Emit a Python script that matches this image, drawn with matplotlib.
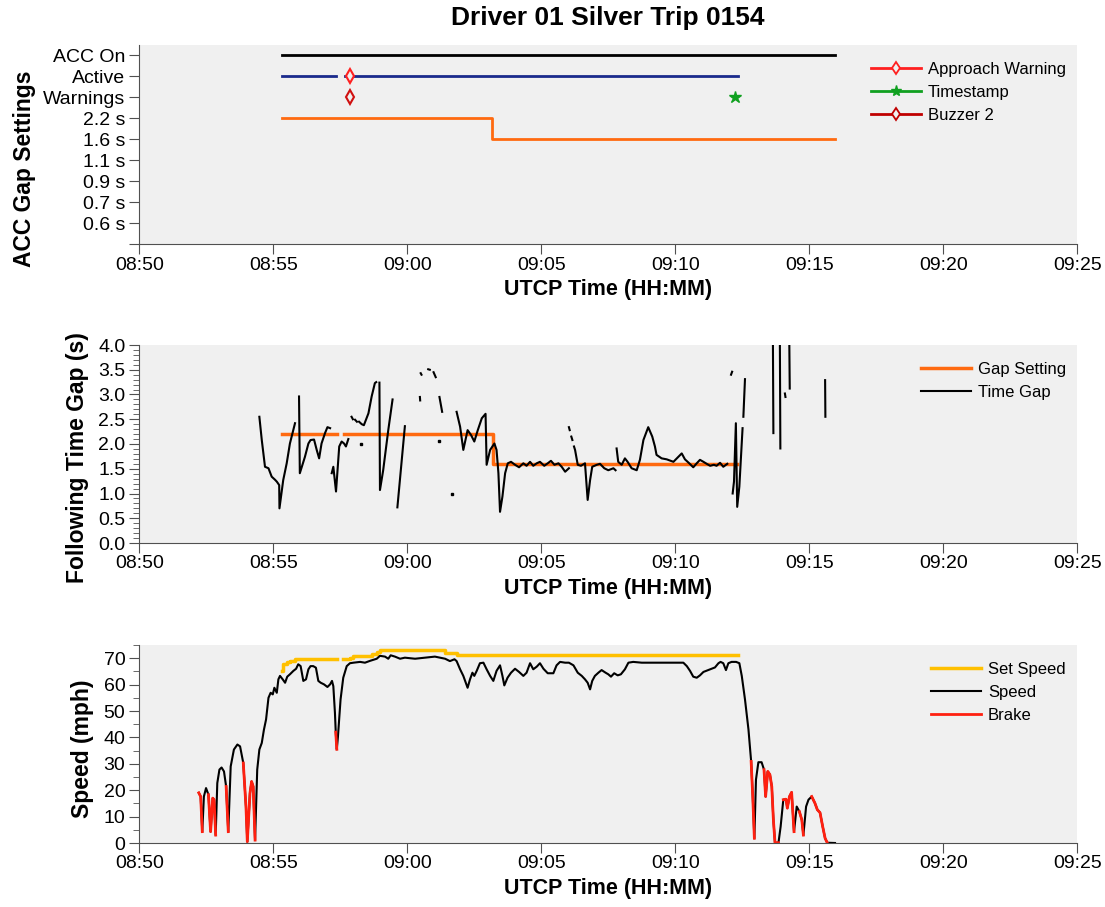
import numpy as np
import matplotlib
matplotlib.use('Agg')
from matplotlib import pyplot as plt
from matplotlib.ticker import MultipleLocator

plt.rcParams['font.family'] = ['Liberation Sans', 'DejaVu Sans']

nan = np.nan
BG = '#f0f0f0'

# all times are minutes after 08:50
xtick_labels = ['08:50', '08:55', '09:00', '09:05', '09:10', '09:15', '09:20', '09:25']

# ---- top panel: ACC gap settings
gap_levels = ['', '0.6 s', '0.7 s', '0.9 s', '1.1 s', '1.6 s', '2.2 s', 'Warnings', 'Active', 'ACC On']
acc_on_t = [5.34, 25.97]
active_t = [5.34, 7.35, nan, 7.67, 22.35]
gap_top_t = [5.34, 13.17, 25.97]
gap_top_s = ['2.2 s', '1.6 s', '1.6 s']
approach_t = [7.87]
buzzer_t = [7.87]
stamp_t = [22.24]

# ---- middle panel: following time gap
gap_set_t = [5.31, 7.36, nan, 7.64, 13.2, 22.3]
gap_set_v = [2.2, 2.2, nan, 2.2, 1.6, 1.6]

tgap_t = [4.48, 4.57, 4.69, 4.82, 4.94, 5.06, 5.13, 5.22, 5.23, 5.37, 5.50, 5.62, 5.81, nan,
          5.96, 5.99, 6.18, 6.31, 6.39, 6.52, 6.62, 6.71, 6.80, 6.93, 7.02, 7.12, nan,
          7.18, 7.24, 7.34, 7.39, 7.46, 7.55, 7.64, 7.71, 7.80, nan,
          7.92, 7.97, nan, 8.05, 8.12, nan, 8.20, 8.30, 8.38, 8.55, 8.67, 8.79, 8.84, nan,
          8.96, 8.98, 9.10, 9.29, 9.45, nan, 9.63, 9.91, nan,
          10.50, 10.53, nan, 10.47, 10.48, nan, 10.78, 10.84, nan, 10.98, 11.06, nan, 11.20, 11.30, nan,
          11.84, 11.97, 12.09, 12.25, 12.38, 12.50, 12.63, 12.78, 12.92, 12.96, 13.09, 13.25, 13.33,
          13.40, 13.46, 13.55, 13.65, 13.75, 13.87, 14.02, 14.17, 14.33, 14.45, 14.58, 14.70, 14.83,
          14.95, 15.11, 15.24, 15.36, 15.49, 15.64, 15.76, 15.89, 16.03, nan,
          16.03, 16.06, nan, 16.12, 16.16, nan,
          16.22, 16.26, 16.36, 16.48, 16.63, 16.73, 16.82, 16.90, 17.07, 17.19, 17.35, 17.50, 17.69,
          17.77, nan,
          17.81, 17.87, 18.00, 18.12, 18.22, 18.37, 18.56, 18.68, 18.81, 18.99, 19.14, 19.24, 19.30,
          19.49, 19.68, 19.93, 20.11, 20.24, 20.36, 20.52, 20.67, 20.80, 20.92, 21.05, 21.17, 21.30,
          21.44, 21.54, 21.67, 21.79, 21.94, nan,
          22.08, 22.12, nan,
          22.14, 22.19, 22.26, 22.31, 22.39, 22.51, nan, 22.54, 22.60, nan,
          23.64, 23.66, nan, 23.90, 23.92, nan, 24.09, 24.11, nan, 24.25, 24.27, nan, 25.59, 25.60]
tgap_v = [2.55, 2.08, 1.54, 1.51, 1.34, 1.28, 1.24, 1.17, 0.70, 1.27, 1.61, 2.01, 2.42, nan,
          2.96, 1.41, 1.74, 2.01, 2.08, 2.09, 1.88, 1.71, 2.01, 2.22, 2.34, 2.32, nan,
          1.41, 1.54, 1.04, 1.41, 1.95, 2.05, 2.01, 1.95, 2.10, nan,
          2.55, 2.50, nan, 2.49, 2.45, nan, 2.45, 2.40, 2.38, 2.62, 2.96, 3.23, 3.25, nan,
          3.24, 1.07, 1.47, 2.28, 2.90, nan, 0.72, 2.36, nan,
          3.43, 3.40, nan, 2.95, 2.88, nan, 3.51, 3.50, nan, 3.45, 3.35, nan, 2.95, 2.65, nan,
          2.65, 2.35, 1.88, 2.28, 2.18, 2.05, 2.28, 2.52, 2.61, 1.58, 1.88, 2.01, 1.88,
          1.41, 0.63, 0.94, 1.41, 1.61, 1.64, 1.58, 1.53, 1.61, 1.56, 1.64, 1.56, 1.61,
          1.64, 1.56, 1.61, 1.66, 1.58, 1.61, 1.54, 1.44, 1.51, nan,
          2.34, 2.28, nan, 2.15, 2.08, nan,
          1.95, 1.88, 1.58, 1.56, 1.61, 0.87, 1.27, 1.54, 1.58, 1.60, 1.51, 1.47, 1.51,
          1.47, nan,
          1.91, 1.64, 1.58, 1.71, 1.64, 1.51, 1.47, 1.68, 2.08, 2.34, 2.15, 1.95, 1.78,
          1.71, 1.69, 1.64, 1.74, 1.81, 1.69, 1.61, 1.53, 1.61, 1.68, 1.64, 1.60, 1.56,
          1.58, 1.56, 1.62, 1.54, 1.60, nan,
          3.40, 3.46, nan,
          1.00, 1.24, 2.42, 0.73, 1.14, 2.32, nan, 2.55, 3.31, nan,
          4.30, 2.22, nan, 4.30, 1.91, nan, 3.02, 2.95, nan, 4.30, 3.12, nan, 3.29, 2.55]
tgap_dot_t = [8.26, 11.19, 11.66]
tgap_dot_v = [2.00, 2.06, 0.99]

# ---- bottom panel: speed
set_t = [5.31, 5.35, 5.50, 5.62, 5.81, 5.99, 7.36, nan,
         7.61, 7.86, 7.99, 8.48, 8.67, 8.86, 8.98, 11.40, 11.87, 22.35]
set_v = [65.2, 67.7, 68.6, 69.0, 69.6, 69.8, 69.8, nan,
         69.8, 70.2, 70.9, 70.9, 71.5, 72.4, 73.0, 72.1, 71.1, 71.1]

speed_t = [2.22, 2.29, 2.35, 2.41, 2.49, 2.58, 2.66, 2.74, 2.79, 2.85, 2.91, 2.99, 3.07, 3.16,
           3.24, 3.32, 3.41, 3.53, 3.66, 3.76, 3.88, 3.98, 4.03, 4.13, 4.19, 4.25, 4.32, 4.40,
           4.48, 4.57, 4.65, 4.73, 4.82, 4.90, 4.98, 5.04, 5.13, 5.19, 5.25, 5.35, 5.44, 5.52,
           5.62, 5.75, 5.85, 5.93, 6.02, 6.12, 6.22, 6.31, 6.39, 6.49, 6.59, 6.68, 6.77, 6.89,
           7.02, 7.12, 7.19, 7.24, 7.30, 7.33, 7.37, 7.41, 7.51, 7.61, 7.74, 7.86, 7.99, 8.24,
           8.42, 8.61, 8.86, 8.98, 9.17, 9.29, 9.38, 9.54, 9.73, 9.91, 10.29, 10.66, 11.03, 11.22,
           11.41, 11.59, 11.76, 11.84, 11.97, 12.09, 12.25, 12.34, 12.43, 12.50, 12.59, 12.71,
           12.84, 12.96, 13.09, 13.21, 13.33, 13.46, 13.55, 13.62, 13.74, 13.87, 14.02, 14.17,
           14.33, 14.45, 14.58, 14.70, 14.83, 14.95, 15.08, 15.24, 15.45, 15.57, 15.70, 15.89,
           16.03, 16.20, 16.36, 16.51, 16.63, 16.73, 16.82, 16.90, 17.00, 17.13, 17.25, 17.40,
           17.50, 17.60, 17.72, 17.85, 17.97, 18.12, 18.25, 18.43, 18.75, 19.12, 19.49, 19.87,
           20.30, 20.43, 20.55, 20.67, 20.80, 20.92, 21.05, 21.23, 21.48, 21.61, 21.69, 21.79,
           21.89, 21.98, 22.10, 22.27, 22.39, 22.48, 22.60, 22.73, 22.83, 22.89, 22.95, 23.01,
           23.10, 23.22, 23.31, 23.37, 23.45, 23.53, 23.60, 23.66, 23.72, 23.85, 23.93, 24.03,
           24.13, 24.18, 24.26, 24.34, 24.43, 24.53, 24.63, 24.72, 24.78, 24.88, 24.97, 25.09,
           25.21, 25.30, 25.40, 25.50, 25.59, 25.67, 25.96]
speed_v = [19.0, 17.6, 4.3, 17.6, 20.8, 18.3, 4.3, 17.0, 16.4, 3.0, 22.7, 27.8, 28.6, 27.1,
           21.4, 4.3, 29.0, 35.4, 37.3, 36.6, 30.3, 13.8, 0.5, 18.9, 23.3, 21.4, 1.1, 27.8,
           35.4, 37.9, 42.9, 46.8, 55.0, 56.9, 56.3, 58.8, 56.9, 62.0, 63.3, 62.0, 60.7, 63.0,
           63.9, 65.2, 66.0, 67.7, 67.0, 61.4, 62.0, 65.8, 67.0, 67.0, 66.4, 61.4, 60.7, 60.1,
           59.1, 60.1, 61.4, 59.4, 49.3, 42.0, 35.5, 40.0, 54.4, 62.6, 67.0, 68.1, 68.3, 68.6,
           68.3, 69.0, 69.8, 70.9, 70.6, 69.8, 71.1, 70.6, 69.8, 70.2, 69.8, 70.2, 70.6, 70.2,
           69.8, 68.9, 69.6, 68.9, 65.8, 63.3, 58.8, 62.0, 64.5, 63.3, 65.2, 68.1,
           68.3, 65.8, 63.3, 61.4, 65.2, 67.3, 63.3, 59.7, 62.6, 64.5, 66.0, 64.8,
           63.3, 64.5, 68.1, 65.8, 66.8, 68.1, 66.0, 64.3, 64.3, 67.3, 68.6, 68.3,
           68.3, 67.3, 64.5, 63.3, 62.0, 60.7, 58.2, 61.4, 63.3, 64.5, 65.5, 64.5,
           63.9, 63.0, 64.3, 63.5, 63.9, 65.8, 68.3, 68.6, 68.3, 68.3, 68.3, 68.3,
           68.3, 67.0, 65.2, 63.0, 62.6, 63.5, 64.8, 65.5, 66.5, 68.1, 68.6, 68.1,
           65.5, 68.1, 68.6, 68.6, 68.1, 63.3, 54.4, 43.0, 30.9, 17.6, 1.8, 24.0,
           30.6, 30.6, 27.8, 17.6, 27.1, 25.9, 21.4, 8.8, 0.1, 0.1, 6.2, 16.4,
           16.6, 13.2, 17.6, 19.2, 4.3, 13.8, 11.9, 8.8, 3.0, 13.8, 16.4, 17.6,
           15.1, 12.6, 11.5, 6.2, 1.8, 0.1, 0.0]

# brake on (start, end) in minutes after 08:50
brake_on = [(2.22, 2.35), (2.58, 2.66), (2.74, 2.85), (3.24, 3.32), (3.88, 4.03), (4.13, 4.32),
            (7.33, 7.37), (22.83, 22.95), (23.31, 23.37), (23.45, 23.85), (24.03, 24.18),
            (24.26, 24.43), (24.63, 24.78), (25.09, 25.67)]


def style_axes(ax):
    ax.set_facecolor(BG)
    for s in ['top', 'right']:
        ax.spines[s].set_visible(False)
    for s in ['left', 'bottom']:
        ax.spines[s].set_color('#505050')
    ax.tick_params(which='both', direction='out', color='#505050', labelsize=14)
    ax.tick_params(which='major', length=7)
    ax.tick_params(which='minor', length=4)
    ax.tick_params(axis='x', pad=2)
    ax.tick_params(axis='y', pad=3)
    ax.set_xlim(0, 35)
    ax.set_xticks(range(0, 36, 5))
    ax.set_xticklabels(xtick_labels)
    ax.set_xlabel('UTCP Time (HH:MM)', fontsize=15.5, fontweight='bold', labelpad=4)


def add_legend(ax, *args):
    ax.legend(*args, loc='upper right', bbox_to_anchor=(1, 1 - 5 / 199), frameon=False,
              fontsize=12, handlelength=3, handletextpad=0.4, labelspacing=0.5,
              borderaxespad=0.3)


fig = plt.figure(figsize=(11.05, 9.07), dpi=100)
L, W = 139.3 / 1105, 938 / 1105
ax1 = fig.add_axes([L, 1 - 244 / 907, W, 199 / 907])
ax2 = fig.add_axes([L, 1 - 543 / 907, W, 198 / 907])
ax3 = fig.add_axes([L, 1 - 843 / 907, W, 198 / 907])

# top
style_axes(ax1)
ax1.plot(acc_on_t, [9, 9], color='black', lw=2)
ax1.plot(active_t, [8] * len(active_t), color='#1a2a8c', lw=2)
ax1.plot(gap_top_t, [gap_levels.index(g) for g in gap_top_s], color='#ff6a10', lw=2,
         drawstyle='steps-post')
ax1.plot(approach_t, [8], ls='none', marker='d', ms=7, mew=1.5, mec='#ff2020', mfc=BG)
ax1.plot(buzzer_t, [7], ls='none', marker='d', ms=7, mew=1.5, mec='#d01010', mfc=BG)
ax1.plot(stamp_t, [7], ls='none', marker='*', ms=9, color='#10a020')
h1, = ax1.plot([], [], color='#ff2020', lw=2, marker='d', ms=6, mew=1.3, mfc=BG)
h2, = ax1.plot([], [], color='#10a020', lw=2, marker='*', ms=8)
h3, = ax1.plot([], [], color='#c00000', lw=2, marker='d', ms=6, mew=1.3, mfc=BG)
add_legend(ax1, [h1, h2, h3], ['Approach Warning', 'Timestamp', 'Buzzer 2'])
ax1.set_ylim(0, 9.5)
ax1.set_yticks(range(10))
ax1.set_yticklabels(gap_levels)
ax1.set_ylabel('ACC Gap Settings', fontsize=16.5, fontweight='bold', va='center')
ax1.yaxis.set_label_coords(-0.122, 0.377)

# middle
style_axes(ax2)
ax2.plot(gap_set_t, gap_set_v, color='#ff6a10', lw=2.5, drawstyle='steps-post', label='Gap Setting')
ax2.plot(tgap_t, tgap_v, color='black', lw=1.5, label='Time Gap')
ax2.plot(tgap_dot_t, tgap_dot_v, ls='none', marker='s', ms=1.5, color='black')
ax2.set_ylim(0, 4)
ax2.yaxis.set_major_locator(MultipleLocator(0.5))
ax2.yaxis.set_minor_locator(MultipleLocator(0.1))
ax2.yaxis.set_major_formatter('{x:.1f}')
add_legend(ax2)
ax2.set_ylabel('Following Time Gap (s)', fontsize=16.5, fontweight='bold', va='center')
ax2.yaxis.set_label_coords(-0.0664, 0.434)

# bottom
style_axes(ax3)
st = np.array(speed_t)
sv = np.array(speed_v)
brake_mask = np.zeros(len(st), dtype=bool)
for a, b in brake_on:
    brake_mask |= (st >= a - 1e-9) & (st <= b + 1e-9)
brake_v = np.where(brake_mask, sv, nan)
ax3.plot(set_t, set_v, color='#ffc000', lw=2.5, drawstyle='steps-post', label='Set Speed')
ax3.plot(st, sv, color='black', lw=1.5, label='Speed')
ax3.plot(st, brake_v, color='#ff2010', lw=2, label='Brake')
ax3.set_ylim(0, 75)
ax3.yaxis.set_major_locator(MultipleLocator(10))
ax3.yaxis.set_minor_locator(MultipleLocator(5))
add_legend(ax3)
ax3.set_ylabel('Speed (mph)', fontsize=16.5, fontweight='bold', va='center')
ax3.yaxis.set_label_coords(-0.061, 0.475)

fig.text(608 / 1105, 1 - 18 / 907, 'Driver 01 Silver Trip 0154', fontsize=19, fontweight='bold',
         ha='center', va='center')

fig.savefig('out.png', dpi=100)
